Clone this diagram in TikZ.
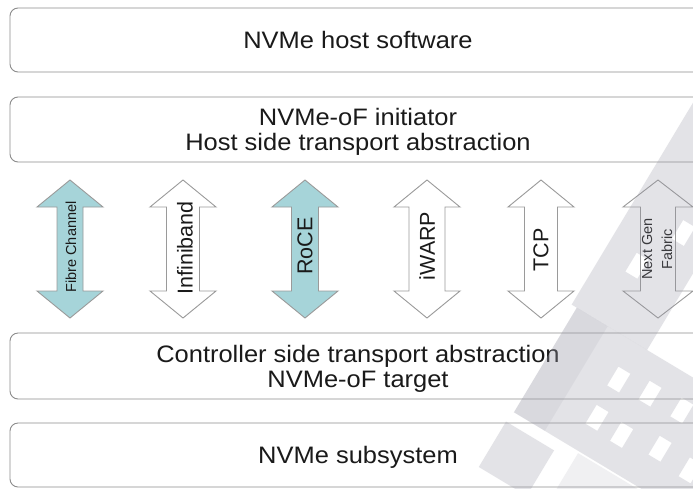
\documentclass[tikz,border=0pt]{standalone}
\usepackage{fontspec}
\setmainfont{Liberation Sans}
\newfontfamily\layerfont{Liberation Sans}[FakeStretch=1.07]
\definecolor{boxline}{HTML}{8C8C8C}
\definecolor{arrowline}{HTML}{9A9A9A}
\definecolor{fabricfill}{HTML}{A6D4D9}
\definecolor{textgray}{HTML}{1A1A1A}
\definecolor{markgray}{RGB}{150,150,165}
\begin{document}
\begin{tikzpicture}[x=1pt,y=-1pt,
  layerbox/.style={draw=boxline, line width=0.9pt, rounded corners=8pt, fill=white},
  layertext/.style={font=\layerfont\fontsize{23.8}{25}\selectfont, text=textgray,
    inner sep=0pt, anchor=base},
  fabricarrow/.style={draw=arrowline, line width=0.9pt, fill=white},
  tinted/.style={fill=fabricfill},
  biglabel/.style={font=\fontsize{21.5}{24}\selectfont, rotate=90, text=textgray, inner sep=0pt},
  smalllabel/.style={font=\fontsize{14.5}{20}\selectfont, rotate=90, align=center, text=textgray, inner sep=0pt},
  markpart/.style={fill=markgray, even odd rule}]
\useasboundingbox (0,0) rectangle (693,488);
\clip (0,0) rectangle (693,488);
\fill[white] (0,0) rectangle (693,488);

% the four stacked layers
\draw[layerbox] (10,8) rectangle (706,72);
\node[layertext] (host) at (358,48) {NVMe host software};
\draw[layerbox] (10,97) rectangle (706,162);
\node[layertext] (initiator) at (358,125) {NVMe-oF initiator};
\node[layertext] (hostside) at (358,150) {Host side transport abstraction};
\draw[layerbox] (10,333) rectangle (706,399);
\node[layertext] (ctrlside) at (358,362) {Controller side transport abstraction};
\node[layertext] (target) at (358,387) {NVMe-oF target};
\draw[layerbox] (10,423) rectangle (706,487);
\node[layertext] (subsystem) at (358,463) {NVMe subsystem};

% double-headed fabric arrows: centre x, shaft half width, head half width
\newcommand{\fabricshape}[4][]{%
  \draw[fabricarrow,#1] (#2,180) -- (#2+#4,207) -- (#2+#3,207) -- (#2+#3,291)
    -- (#2+#4,291) -- (#2,318) -- (#2-#4,291) -- (#2-#3,291) -- (#2-#3,207)
    -- (#2-#4,207) -- cycle;}
\fabricshape[tinted]{70}{13}{33}
\fabricshape{183}{16.5}{33}
\fabricshape[tinted]{305}{13.5}{33}
\fabricshape{427}{18}{33}
\fabricshape{541}{16.5}{33}
\fabricshape{658}{17.5}{35}

\node[smalllabel] (fc) at (71,247) {Fibre Channel};
\node[biglabel] (ib) at (185,248) {Infiniband};
\node[biglabel] (roce) at (305,246) {RoCE};
\node[biglabel] (iwarp) at (427,246) {iWARP};
\node[biglabel] (tcp) at (541,250) {TCP};
\node[smalllabel] (ngf) at (657,249) {Next Gen\\Fabric};

% faint tilted logo in the lower right corner
\begin{scope}[shift={(610,400)}, rotate=59, fill opacity=0.26]
  % main block with its window grid
  \fill[markpart] (-60,-76) rectangle (62,170)
    (11,-10) rectangle (33,4)   (-33,-9) rectangle (-11,5)
    (15,24) rectangle (37,38)   (-35,21) rectangle (-13,35)
    (17,60) rectangle (39,74)   (-27,61) rectangle (-5,75)
    (15,96) rectangle (37,110)  (-30,98) rectangle (-8,112);
  % long band running up to the top right
  \fill[markpart] (62,-82) rectangle (330,6)
    (118,-53) rectangle (140,-39) (170,-30) rectangle (192,-16);
  % lighter strip along the upper edge of the block
  \fill[markgray, fill opacity=0.12] (-60,-76) rectangle (62,-40);
  % small loose tiles on the lower left
  \fill[markpart] (-125,-78) rectangle (-72,-22);
  \fill[markgray, fill opacity=0.14] (-115,0) rectangle (-62,170);
\end{scope}
\end{tikzpicture}
\end{document}
